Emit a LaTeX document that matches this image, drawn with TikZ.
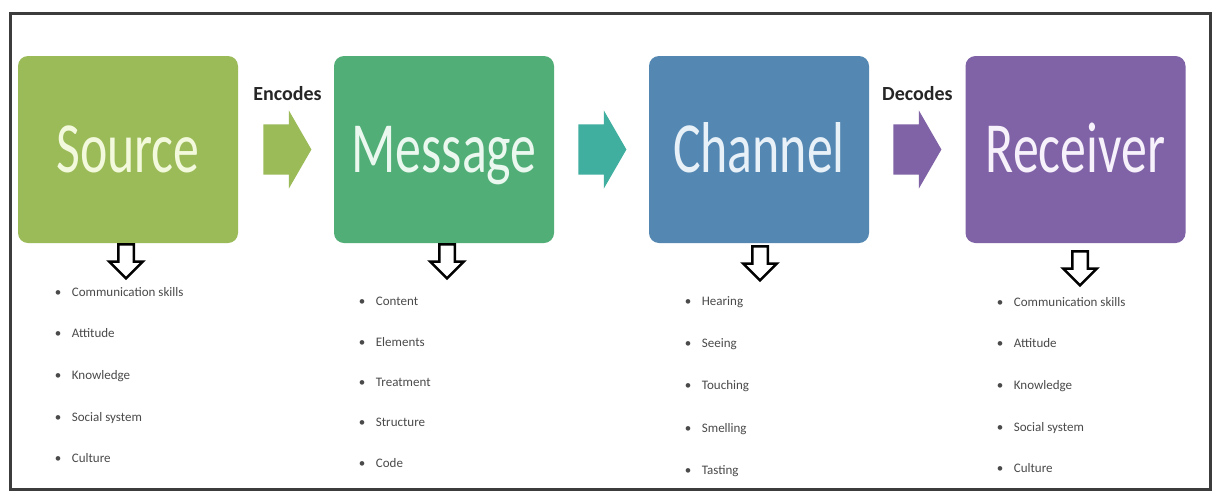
\documentclass[tikz,border=0pt]{standalone}
\usepackage{fontspec}
\setmainfont{Carlito}
\usetikzlibrary{shapes.arrows,calc}

% stage colours
\definecolor{srcfill}{HTML}{9BBB59}
\definecolor{msgfill}{HTML}{52AE77}
\definecolor{chnfill}{HTML}{5488B3}
\definecolor{rcvfill}{HTML}{8062A6}
\definecolor{tealarrow}{HTML}{40AFA0}
\definecolor{srctext}{HTML}{F3F9DC}
\definecolor{msgtext}{HTML}{EAF8EF}
\definecolor{chntext}{HTML}{E8F0F8}
\definecolor{rcvtext}{HTML}{F6F1FA}
\definecolor{itemgray}{HTML}{4A4A4A}
\definecolor{framegray}{HTML}{3C3C3C}

\newcommand\stagetext[1]{\scalebox{0.72}[1]{\fontsize{72}{72}\selectfont #1}}
\newcommand\bul{\makebox[17pt][l]{\textbullet}}

\tikzset{
  stage/.style={rounded corners=10pt, minimum width=220pt, minimum height=187pt,
    inner sep=0pt, text height=50pt, text depth=5pt},
  rarrow/.style={single arrow, anchor=tail, inner xsep=0pt, inner ysep=25pt,
    minimum height=48pt, single arrow head extend=14pt, single arrow tip angle=120},
  darrow/.style={single arrow, shape border rotate=270, anchor=tail, draw=black,
    fill=white, line width=2.5pt, inner sep=6.5pt, minimum height=34pt,
    single arrow head extend=9pt, single arrow tip angle=90},
  lab/.style={font=\bfseries\fontsize{20}{20}\selectfont, text=black!85, inner sep=0pt},
  item/.style={anchor=base west, inner sep=0pt, text=itemgray,
    font=\fontsize{13}{13}\selectfont},
  frame/.style={draw=framegray, line width=3pt}
}

\begin{document}
\begin{tikzpicture}[x=1pt,y=-1pt]
  \useasboundingbox (0,0) rectangle (1221,496);
  \fill[white] (0,0) rectangle (1221,496);
  \draw[frame] (10,13) rectangle (1210,489);

  % the four stages
  \node[stage, fill=srcfill, text=srctext] (src) at (128,149.5)  {\stagetext{Source}};
  \node[stage, fill=msgfill, text=msgtext] (msg) at (444,149.5)  {\stagetext{Message}};
  \node[stage, fill=chnfill, text=chntext] (chn) at (759,149.5)  {\stagetext{Channel}};
  \node[stage, fill=rcvfill, text=rcvtext] (rcv) at (1075.5,149.5) {\stagetext{Receiver}};

  % block arrows between the stages
  \node[rarrow, fill=srcfill]    (a1) at ($(src.east)+(25,0)$) {};
  \node[rarrow, fill=tealarrow]  (a2) at ($(msg.east)+(24,0)$) {};
  \node[rarrow, fill=rcvfill]    (a3) at ($(chn.east)+(24,0)$) {};
  \node[lab] (enc) at ($(a1.tail)!0.5!(a1.tip)+(0,-56)$) {Encodes};
  \node[lab] (dec) at ($(a3.tail)!0.5!(a3.tip)+(0,-56)$) {Decodes};

  % hollow arrows down to the lists
  \node[darrow] (d1) at ($(src.south)+(-2,0)$) {};
  \node[darrow] (d2) at ($(msg.south)+(3,0)$) {};
  \node[darrow] (d3) at ($(chn.south)+(1,2)$) {};
  \node[darrow] (d4) at ($(rcv.south)+(4.5,7)$) {};

  % lists
  \foreach \y/\t [count=\i] in {296/Communication skills, 337/Attitude,
      379/Knowledge, 421/Social system, 462/Culture}
    \node[item] (s\i) at (54.7,\y) {\bul\t};
  \foreach \y/\t [count=\i] in {305/Content, 346/Elements,
      386/Treatment, 426/Structure, 467/Code}
    \node[item] (m\i) at (358.7,\y) {\bul\t};
  \foreach \y/\t [count=\i] in {305/Hearing, 347/Seeing,
      389/Touching, 432/Smelling, 474/Tasting}
    \node[item] (c\i) at (684.7,\y) {\bul\t};
  \foreach \y/\t [count=\i] in {306/Communication skills, 347/Attitude,
      389/Knowledge, 431/Social system, 472/Culture}
    \node[item] (r\i) at (996.7,\y) {\bul\t};
\end{tikzpicture}
\end{document}
